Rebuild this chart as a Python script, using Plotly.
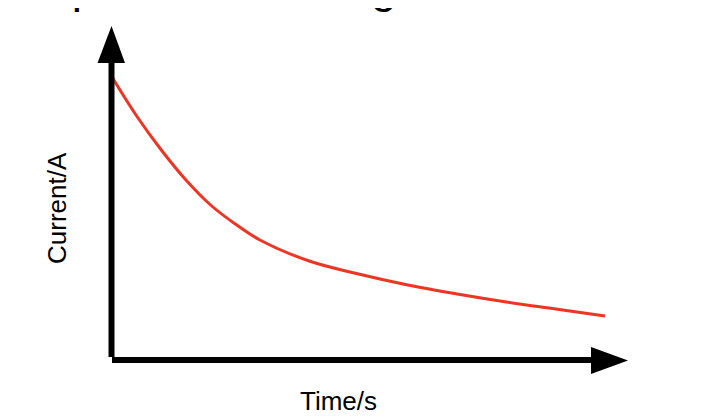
import plotly.graph_objects as go

# Data
time_s = [0, 0.5, 1, 1.5, 2, 2.5, 3, 4, 5, 6, 7, 8, 9, 10]
current_a = [5.66, 4.88, 4.20, 3.60, 3.10, 2.72, 2.40, 1.98, 1.72, 1.50, 1.32, 1.16, 1.02, 0.88]

x_title = "Time/s"
y_title = "Current/A"
chart_title = "Capacitor discharge"

W, H = 714, 418
OFF = 8  # page body margin offset

def px(x):
    return (x - OFF) / W

def py(y):
    return 1 - (y - OFF) / H

# pixel -> data scales (window coords)
X0_PIX, X_SCALE = 112, 49.3
Y0_PIX, Y_SCALE = 360, 50.0

fig = go.Figure()
fig.add_trace(go.Scatter(
    x=time_s, y=current_a, mode="lines", line_shape="spline",
    line=dict(color="#ee3524", width=3), hoverinfo="skip", showlegend=False,
))

black = "#000000"
shapes = [
    dict(type="line", xref="paper", yref="paper", x0=px(111.5), x1=px(111.5), y0=py(357), y1=py(60),
         line=dict(color=black, width=6)),
    dict(type="path", xref="paper", yref="paper",
         path=f"M {px(97.5)},{py(63)} L {px(111.5)},{py(26)} L {px(125)},{py(63)} Z",
         fillcolor=black, line=dict(color=black, width=0)),
    dict(type="line", xref="paper", yref="paper", x0=px(112), x1=px(594), y0=py(360), y1=py(360),
         line=dict(color=black, width=6)),
    dict(type="path", xref="paper", yref="paper",
         path=f"M {px(591)},{py(347)} L {px(628)},{py(360.5)} L {px(591)},{py(374)} Z",
         fillcolor=black, line=dict(color=black, width=0)),
]

font = "Liberation Sans, Arial, Helvetica, sans-serif"
annotations = [
    dict(text=x_title, xref="paper", yref="paper", x=px(338), y=py(401), xanchor="center", yanchor="middle",
         showarrow=False, font=dict(family=font, size=26, color=black)),
    dict(text=y_title, xref="paper", yref="paper", x=px(57), y=py(208), xanchor="center", yanchor="middle",
         textangle=-90, showarrow=False, font=dict(family=font, size=26, color=black)),
    dict(text=chart_title, xref="paper", yref="paper", x=px(11), y=py(14), xanchor="left", yanchor="bottom",
         showarrow=False, font=dict(family=font, size=46, color=black)),
]

xr0 = (OFF - X0_PIX) / X_SCALE
yr1 = (Y0_PIX - OFF) / Y_SCALE
fig.update_layout(
    width=W, height=H, margin=dict(l=0, r=0, t=0, b=0),
    paper_bgcolor="white", plot_bgcolor="white",
    xaxis=dict(range=[xr0, xr0 + W / X_SCALE], visible=False, fixedrange=True),
    yaxis=dict(range=[yr1 - H / Y_SCALE, yr1], visible=False, fixedrange=True),
    shapes=shapes, annotations=annotations,
)

fig.write_html("out.html", config={"displayModeBar": False})
